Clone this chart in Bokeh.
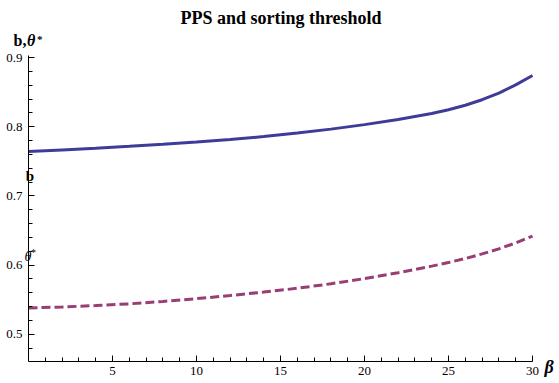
from bokeh.plotting import figure
from bokeh.models import Range1d, FixedTicker, Label, LinearAxis
from bokeh.embed import file_html
from bokeh.resources import INLINE

beta = [0, 2, 4, 6, 8, 10, 12, 14, 16, 18, 20, 22, 24, 25, 26, 27, 28, 29, 30]
b_vals = [0.764, 0.7665, 0.769, 0.7717, 0.7746, 0.7778, 0.7815, 0.7858, 0.7908,
          0.7965, 0.803, 0.8105, 0.8190, 0.8245, 0.8310, 0.8390, 0.8485, 0.8605, 0.874]
theta_vals = [0.538, 0.5395, 0.5415, 0.544, 0.5475, 0.5515, 0.556, 0.561, 0.5665,
              0.573, 0.5805, 0.589, 0.5985, 0.6037, 0.6095, 0.6162, 0.6235, 0.632, 0.642]

x_major = [5, 10, 15, 20, 25, 30]
x_minor = list(range(1, 31))
y_major = [0.5, 0.6, 0.7, 0.8, 0.9]
y_minor = [round(0.48 + 0.02 * i, 2) for i in range(22)]

title_text = "PPS and sorting threshold"
x_label = "β"

SERIF = "Liberation Serif"
W, H = 557, 381
PX_X0, PX_PER_X = 28.0, 16.8
PX_Y09, PX_PER_Y = 57.0, 692.0
X_AXIS_Y = 0.46
Y_AXIS_TOP = 0.9025

def dx(px):
    return (px - PX_X0) / PX_PER_X
def dy(py):
    return 0.9 - (py - PX_Y09) / PX_PER_Y

p = figure(width=W, height=H, output_backend="svg", toolbar_location=None,
           x_range=Range1d(dx(0), dx(W)), y_range=Range1d(dy(H), dy(0)),
           x_axis_location=None, y_axis_location=None,
           min_border=0, min_border_left=0, min_border_right=0,
           min_border_top=0, min_border_bottom=0)
p.outline_line_color = None
p.grid.visible = False
p.background_fill_color = "white"
p.border_fill_color = "white"

xaxis = LinearAxis(fixed_location=X_AXIS_Y, bounds=(0, 30),
                   ticker=FixedTicker(ticks=x_major, minor_ticks=x_minor))
yaxis = LinearAxis(fixed_location=0, bounds=(X_AXIS_Y, Y_AXIS_TOP),
                   ticker=FixedTicker(ticks=y_major, minor_ticks=y_minor))
for ax in (xaxis, yaxis):
    ax.axis_line_color = "black"
    ax.axis_line_width = 1
    ax.major_tick_in = 6
    ax.major_tick_out = 0
    ax.minor_tick_in = 4
    ax.minor_tick_out = 0
    ax.major_tick_line_color = "black"
    ax.minor_tick_line_color = "black"
    ax.major_label_text_font = SERIF
    ax.major_label_text_font_size = "13px"
    ax.major_label_text_color = "black"
xaxis.major_label_standoff = 5
yaxis.major_label_standoff = 6
p.add_layout(xaxis, "below")
p.add_layout(yaxis, "left")

p.line(beta, b_vals, line_color="#3d3d99", line_width=3)
p.line(beta, theta_vals, line_color="#993d75", line_width=3, line_dash="9 4")

def lab(px, py, text, size, style="normal", align="left", baseline="alphabetic"):
    p.add_layout(Label(x=dx(px), y=dy(py), text=text, text_font=SERIF, text_font_size=size,
                       text_font_style=style, text_align=align, text_baseline=baseline,
                       text_color="black"))

lab(280.5, 17.5, title_text, "18px", "bold", "center")
lab(13, 40, "b,", "16px", "bold")
lab(26.5, 40, "θ", "16px", "bold italic")
lab(36.5, 38, "*", "11px", "bold")
lab(544, 366, x_label, "18px", "bold italic")
lab(29.5, 175, "b", "15px", "bold", "center", "middle")
lab(24, 256, "θ", "14px", "italic", "left", "middle")
lab(30.5, 252, "*", "10px", "normal", "left", "middle")

open("out.html", "w").write(file_html(p, INLINE))
